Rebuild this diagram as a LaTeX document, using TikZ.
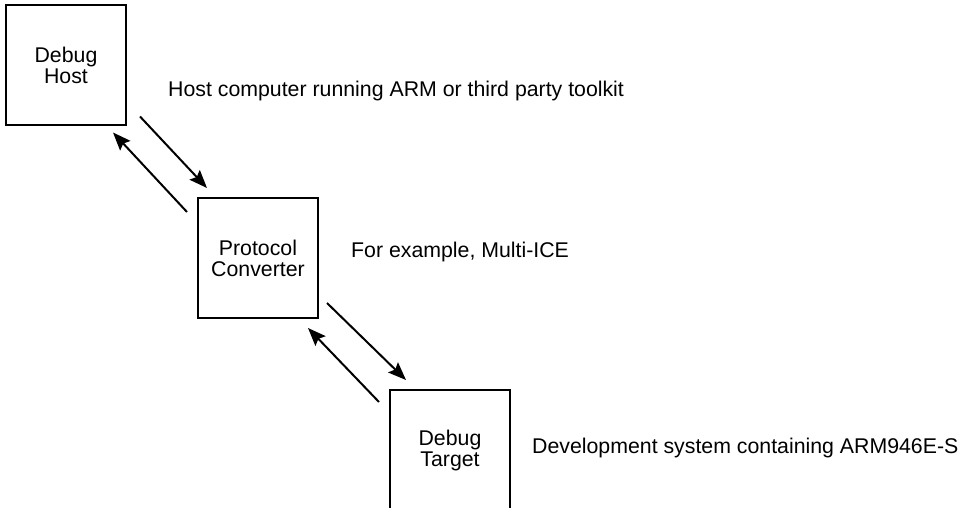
\documentclass[tikz,border=0pt]{standalone}
\usepackage{fontspec}
\setmainfont{Liberation Sans}
\usetikzlibrary{arrows.meta,calc}
\begin{document}
\begin{tikzpicture}[x=1pt,y=-1pt,
  box/.style={draw,line width=2pt,minimum width=120pt,minimum height=120pt,
    inner sep=0pt,align=center,font=\fontsize{21.3}{21}\selectfont},
  note/.style={anchor=base west,inner sep=0pt,font=\fontsize{21.3}{21}\selectfont},
  link/.style={line width=2pt,-{Stealth[length=18pt,width=14pt,inset=3pt]}}]
\useasboundingbox (0,0) rectangle (959,508);
\node[box] (host) at (66,65.5) {Debug\\Host};
\node[box] (conv) at (258,258) {Protocol\\Converter};
\node[box] (targ) at (450,450) {Debug\\Target};
\node[note] (hostnote) at (168,97) {Host computer running ARM or third party toolkit};
\node[note] (convnote) at (351,257) {For example, Multi-ICE};
\node[note] (targnote) at (532,453) {Development system containing ARM946E-S};
\coordinate (a1s) at ($(host.south east)+(13,-10)$);
\coordinate (a1e) at ($(conv.north west)+(10,-9)$);
\coordinate (a2s) at ($(conv.north west)+(-10,15)$);
\coordinate (a2e) at ($(host.south east)+(-14,6)$);
\coordinate (a3s) at ($(conv.south east)+(8,-16)$);
\coordinate (a3e) at ($(targ.north west)+(17,-9)$);
\coordinate (a4s) at ($(targ.north west)+(-10,13)$);
\coordinate (a4e) at ($(conv.south east)+(-11,9)$);
\draw[link] (a1s) -- (a1e);
\draw[link] (a2s) -- (a2e);
\draw[link] (a3s) -- (a3e);
\draw[link] (a4s) -- (a4e);
\end{tikzpicture}
\end{document}
